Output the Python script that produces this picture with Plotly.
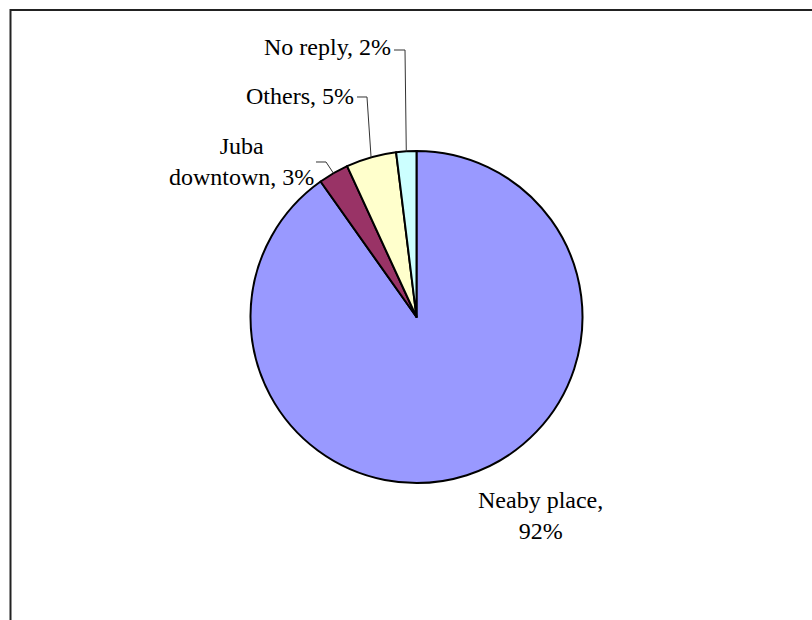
import math
import plotly.graph_objects as go

# ---- data ----
categories = ["Neaby place", "Juba downtown", "Others", "No reply"]
values = [92, 3, 5, 2]
colors = ["#9999FF", "#993366", "#FFFFCC", "#CCFFFF"]

W, H = 812, 620
CX, CY, R = 416.5, 317.0, 166.0  # pie centre / radius in pixels (layout)

def px(x):
    return x / W

def py(y):
    return 1 - y / H

fig = go.Figure()
fig.add_trace(go.Pie(
    labels=categories,
    values=values,
    sort=False,
    direction="clockwise",
    rotation=0,
    textinfo="none",
    hoverinfo="label+value",
    marker=dict(colors=colors, line=dict(color="black", width=2)),
    domain=dict(x=[px(CX - R), px(CX + R)], y=[py(CY + R), py(CY - R)]),
    showlegend=False,
))

# label layout (pixel anchors) — style only
label_layout = {
    "Neaby place": dict(x=540, y=515, xanchor="center", text="Neaby place,<br>{v}%", leader=None),
    "Juba downtown": dict(x=241, y=161, xanchor="center", text="Juba<br>downtown, {v}%",
                          leader=[(316, 162), (326, 162)]),
    "Others": dict(x=356, y=96, xanchor="right", text="Others, {v}%",
                   leader=[(357, 97), (367, 97)]),
    "No reply": dict(x=393, y=47, xanchor="right", text="No reply, {v}%",
                     leader=[(394, 50), (405, 50)]),
}

total = sum(values)
cum = 0.0
annotations = []
shapes = []
for cat, v in zip(categories, values):
    start = cum
    cum += v / total * 360.0
    mid = math.radians((start + cum) / 2)
    ax = CX + R * math.sin(mid)
    ay = CY - R * math.cos(mid)
    L = label_layout[cat]
    annotations.append(dict(
        x=px(L["x"]), y=py(L["y"]), xref="paper", yref="paper",
        xanchor=L["xanchor"], yanchor="middle", align="center",
        text=L["text"].format(v=v), showarrow=False,
        font=dict(family="Liberation Serif", size=24, color="black"),
    ))
    if L["leader"]:
        pts = L["leader"] + [(ax, ay)]
        path = "M " + " L ".join(f"{px(x):.5f},{py(y):.5f}" for x, y in pts)
        shapes.append(dict(type="path", xref="paper", yref="paper", path=path,
                           line=dict(color="#333333", width=1)))

# outer chart frame
shapes.append(dict(type="rect", xref="paper", yref="paper",
                   x0=px(10.5), x1=1.2, y0=-0.2, y1=py(10),
                   line=dict(color="#222222", width=2), fillcolor="rgba(0,0,0,0)"))

fig.update_layout(
    width=W, height=H,
    margin=dict(l=0, r=0, t=0, b=0),
    paper_bgcolor="white", plot_bgcolor="white",
    annotations=annotations,
    shapes=shapes,
)

fig.write_html("out.html")
